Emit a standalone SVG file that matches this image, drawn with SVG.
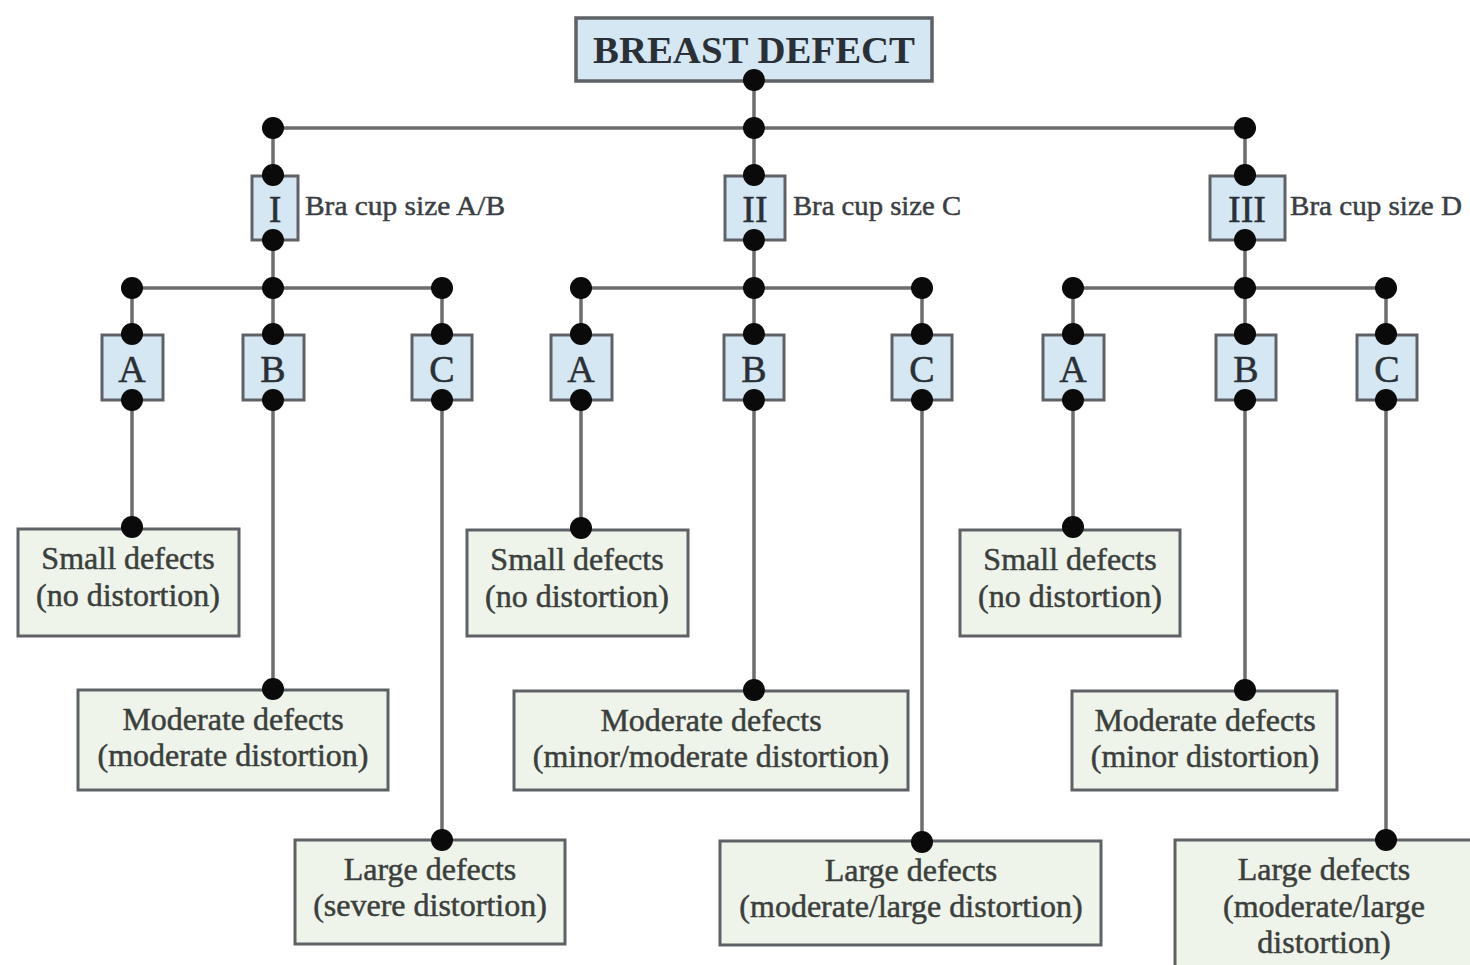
<svg xmlns="http://www.w3.org/2000/svg" width="1470" height="965" viewBox="0 0 1470 965">
  <style>
    .root { fill: #d5e7f3; stroke: #5e6266; stroke-width: 3.5; }
    .grp { fill: #d5e7f3; stroke: #5e6266; stroke-width: 3; }
    .leaf { fill: #eef4ea; stroke: #5e6266; stroke-width: 3; }
    .wire { stroke: #6d6d6d; stroke-width: 3.5; fill: none; }
    .dot { fill: #0a0a0a; }
    text { font-family: "Liberation Serif", "DejaVu Serif", serif; fill: #2a3035; stroke: #2a3035; stroke-width: 0.5; text-anchor: middle; }
    .big { font-size: 37px; font-weight: bold; stroke-width: 0; }
    .lvl { font-size: 38px; }
    .side { font-size: 28px; text-anchor: start; fill: #3a3f44; stroke: #3a3f44; }
    .lt { font-size: 32px; fill: #3b3f3c; stroke: #3b3f3c; }
  </style>
  <rect width="1470" height="965" fill="#ffffff"/>

  <g id="connectors">
    <path class="wire" d="M754 80 V128 M273 128 H1245 M273 128 V175 M754 128 V175 M1245 128 V175"/>
    <path class="wire" d="M273 240 V288 M754 240 V288 M1245 240 V288"/>
    <path class="wire" d="M132 288 H442 M581 288 H922 M1073 288 H1386"/>
    <path class="wire" d="M132 288 V334 M273 288 V334 M442 288 V334 M581 288 V334 M754 288 V334 M922 288 V334 M1073 288 V334 M1245 288 V334 M1386 288 V334"/>
    <path class="wire" d="M132 400 V527 M273 400 V689 M442 400 V840 M581 400 V528 M754 400 V690 M922 400 V842 M1073 400 V527 M1245 400 V690 M1386 400 V840"/>
  </g>

  <g id="root">
    <rect class="root" x="576" y="18" width="356" height="63"/>
    <text class="big" x="754" y="63" textLength="322" lengthAdjust="spacingAndGlyphs">BREAST DEFECT</text>
  </g>

  <g id="group-I">
    <rect class="grp" x="252" y="176" width="46" height="64"/>
    <text class="lvl" x="275" y="222">I</text>
    <text class="side" x="305" y="215" textLength="200" lengthAdjust="spacingAndGlyphs">Bra cup size A/B</text>
  </g>
  <g id="group-II">
    <rect class="grp" x="725" y="176" width="60" height="64"/>
    <text class="lvl" x="755" y="222">II</text>
    <text class="side" x="793" y="215" textLength="168" lengthAdjust="spacingAndGlyphs">Bra cup size C</text>
  </g>
  <g id="group-III">
    <rect class="grp" x="1210" y="176" width="75" height="64"/>
    <text class="lvl" x="1247" y="222">III</text>
    <text class="side" x="1290" y="215" textLength="172" lengthAdjust="spacingAndGlyphs">Bra cup size D</text>
  </g>

  <g id="I-A"><rect class="grp" x="102" y="335" width="61" height="65"/><text class="lvl" x="132" y="382">A</text></g>
  <g id="I-B"><rect class="grp" x="243" y="335" width="61" height="65"/><text class="lvl" x="273" y="382">B</text></g>
  <g id="I-C"><rect class="grp" x="412" y="335" width="60" height="65"/><text class="lvl" x="442" y="382">C</text></g>
  <g id="II-A"><rect class="grp" x="551" y="335" width="61" height="65"/><text class="lvl" x="581" y="382">A</text></g>
  <g id="II-B"><rect class="grp" x="724" y="335" width="60" height="65"/><text class="lvl" x="754" y="382">B</text></g>
  <g id="II-C"><rect class="grp" x="892" y="335" width="60" height="65"/><text class="lvl" x="922" y="382">C</text></g>
  <g id="III-A"><rect class="grp" x="1043" y="335" width="61" height="65"/><text class="lvl" x="1073" y="382">A</text></g>
  <g id="III-B"><rect class="grp" x="1216" y="335" width="60" height="65"/><text class="lvl" x="1246" y="382">B</text></g>
  <g id="III-C"><rect class="grp" x="1357" y="335" width="60" height="65"/><text class="lvl" x="1387" y="382">C</text></g>

  <g id="I-small">
    <rect class="leaf" x="18" y="529" width="221" height="107"/>
    <text class="lt" x="128" y="569">Small defects</text>
    <text class="lt" x="128" y="606">(no distortion)</text>
  </g>
  <g id="I-moderate">
    <rect class="leaf" x="78" y="690" width="310" height="100"/>
    <text class="lt" x="233" y="730">Moderate defects</text>
    <text class="lt" x="233" y="766">(moderate distortion)</text>
  </g>
  <g id="I-large">
    <rect class="leaf" x="295" y="840" width="270" height="104"/>
    <text class="lt" x="430" y="880">Large defects</text>
    <text class="lt" x="430" y="916">(severe distortion)</text>
  </g>

  <g id="II-small">
    <rect class="leaf" x="467" y="530" width="221" height="106"/>
    <text class="lt" x="577" y="570">Small defects</text>
    <text class="lt" x="577" y="607">(no distortion)</text>
  </g>
  <g id="II-moderate">
    <rect class="leaf" x="514" y="691" width="394" height="99"/>
    <text class="lt" x="711" y="731">Moderate defects</text>
    <text class="lt" x="711" y="767">(minor/moderate distortion)</text>
  </g>
  <g id="II-large">
    <rect class="leaf" x="720" y="841" width="381" height="104"/>
    <text class="lt" x="911" y="881">Large defects</text>
    <text class="lt" x="911" y="917">(moderate/large distortion)</text>
  </g>

  <g id="III-small">
    <rect class="leaf" x="960" y="530" width="220" height="106"/>
    <text class="lt" x="1070" y="570">Small defects</text>
    <text class="lt" x="1070" y="607">(no distortion)</text>
  </g>
  <g id="III-moderate">
    <rect class="leaf" x="1072" y="691" width="265" height="99"/>
    <text class="lt" x="1205" y="731">Moderate defects</text>
    <text class="lt" x="1205" y="767">(minor distortion)</text>
  </g>
  <g id="III-large">
    <rect class="leaf" x="1175" y="840" width="300" height="130"/>
    <text class="lt" x="1324" y="880">Large defects</text>
    <text class="lt" x="1324" y="917">(moderate/large</text>
    <text class="lt" x="1324" y="953">distortion)</text>
  </g>

  <g id="junctions" class="dot">
    <circle cx="754" cy="80" r="11"/>
    <circle cx="273" cy="128" r="11"/><circle cx="754" cy="128" r="11"/><circle cx="1245" cy="128" r="11"/>
    <circle cx="273" cy="175" r="11"/><circle cx="754" cy="175" r="11"/><circle cx="1245" cy="175" r="11"/>
    <circle cx="273" cy="240" r="11"/><circle cx="754" cy="240" r="11"/><circle cx="1245" cy="240" r="11"/>
    <circle cx="132" cy="288" r="11"/><circle cx="273" cy="288" r="11"/><circle cx="442" cy="288" r="11"/>
    <circle cx="581" cy="288" r="11"/><circle cx="754" cy="288" r="11"/><circle cx="922" cy="288" r="11"/>
    <circle cx="1073" cy="288" r="11"/><circle cx="1245" cy="288" r="11"/><circle cx="1386" cy="288" r="11"/>
    <circle cx="132" cy="334" r="11"/><circle cx="273" cy="334" r="11"/><circle cx="442" cy="334" r="11"/>
    <circle cx="581" cy="334" r="11"/><circle cx="754" cy="334" r="11"/><circle cx="922" cy="334" r="11"/>
    <circle cx="1073" cy="334" r="11"/><circle cx="1245" cy="334" r="11"/><circle cx="1386" cy="334" r="11"/>
    <circle cx="132" cy="400" r="11"/><circle cx="273" cy="400" r="11"/><circle cx="442" cy="400" r="11"/>
    <circle cx="581" cy="400" r="11"/><circle cx="754" cy="400" r="11"/><circle cx="922" cy="400" r="11"/>
    <circle cx="1073" cy="400" r="11"/><circle cx="1245" cy="400" r="11"/><circle cx="1386" cy="400" r="11"/>
    <circle cx="132" cy="527" r="11"/><circle cx="273" cy="689" r="11"/><circle cx="442" cy="840" r="11"/>
    <circle cx="581" cy="528" r="11"/><circle cx="754" cy="690" r="11"/><circle cx="922" cy="842" r="11"/>
    <circle cx="1073" cy="527" r="11"/><circle cx="1245" cy="690" r="11"/><circle cx="1386" cy="840" r="11"/>
  </g>
</svg>
